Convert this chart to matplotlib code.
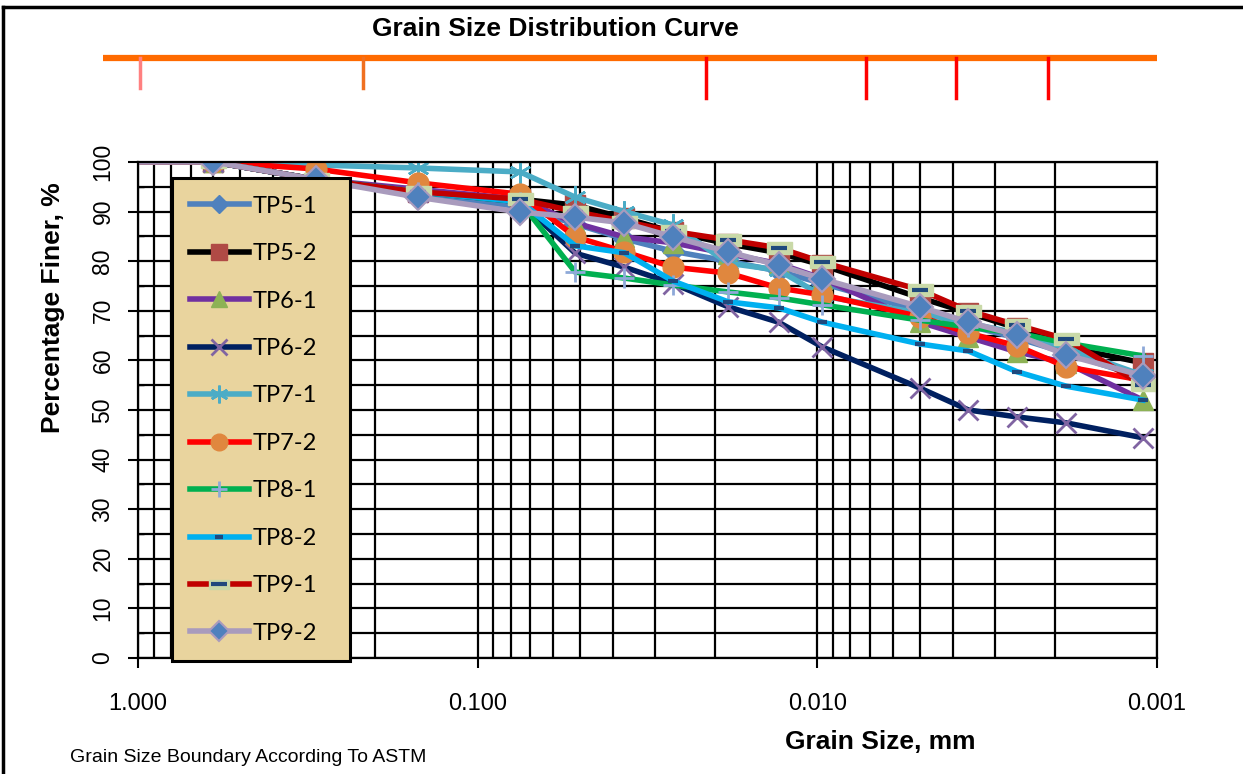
import matplotlib
matplotlib.use("Agg")
import matplotlib.pyplot as plt
from matplotlib.path import Path
from matplotlib.lines import Line2D
from matplotlib.legend_handler import HandlerTuple
from matplotlib.ticker import FixedLocator, MultipleLocator, NullFormatter

plt.rcParams['font.family'] = ['Liberation Sans', 'DejaVu Sans']

# grain sizes (mm) shared by all tests: sieves then hydrometer readings
grain_size = [1.0, 0.6, 0.3, 0.15, 0.075, 0.0516, 0.037, 0.0266,
              0.0183, 0.013, 0.00966, 0.00498, 0.00359, 0.00258, 0.00185, 0.0011]

tp5_1 = [100, 100, 96.5, 93.5, 91.0, 87.5, 84.5, 82.0, 80.0, 78.0, 75.5, 70.0, 67.0, 64.5, 61.5, 56.5]
tp5_2 = [100, 100, 96.5, 94.0, 92.5, 91.3, 88.7, 85.9, 83.5, 81.7, 79.2, 72.6, 69.6, 66.5, 62.7, 59.5]
tp6_1 = [100, 100, 96.5, 94.5, 92.5, 87.7, 84.9, 83.7, 81.5, 79.5, 76.5, 67.7, 64.7, 61.7, 59.5, 52.0]
tp6_2 = [100, 100, 96.5, 94.0, 92.0, 81.6, 78.8, 75.5, 70.8, 67.7, 62.7, 54.4, 50.0, 48.6, 47.4, 44.4]
tp7_1 = [100, 100, 99.4, 98.8, 98.0, 92.9, 90.0, 87.3, 79.6, 78.2, 73.0, 69.5, 67.5, 65.5, 62.5, 57.0]
tp7_2 = [100, 100, 98.6, 95.8, 93.5, 84.9, 81.9, 78.8, 77.6, 74.6, 73.2, 68.8, 65.5, 62.9, 58.7, 56.0]
tp8_1 = [100, 100, 96.5, 94.0, 92.0, 77.8, 76.6, 75.2, 73.8, 72.6, 71.2, 68.1, 66.7, 65.5, 63.5, 60.9]
tp8_2 = [100, 100, 96.5, 94.0, 92.0, 83.1, 81.7, 76.0, 71.8, 70.6, 67.7, 63.3, 61.9, 57.7, 54.8, 52.0]
tp9_1 = [100, 100, 96.5, 94.0, 92.5, 90.0, 88.0, 86.0, 84.3, 82.7, 79.8, 74.2, 70.0, 67.1, 64.3, 55.0]
tp9_2 = [100, 100, 96.5, 92.9, 89.9, 88.9, 87.7, 84.9, 81.9, 79.2, 76.4, 70.8, 67.7, 65.1, 61.1, 56.9]

labels = ["TP5-1", "TP5-2", "TP6-1", "TP6-2", "TP7-1",
          "TP7-2", "TP8-1", "TP8-2", "TP9-1", "TP9-2"]
series = [tp5_1, tp5_2, tp6_1, tp6_2, tp7_1, tp7_2, tp8_1, tp8_2, tp9_1, tp9_2]

# ASTM boundary marks on the scale bar above the chart
boundary_sizes = [0.985, 0.217, 0.0212, 0.0072, 0.0039, 0.0021]
boundary_colors = ['#FF8080', '#F07020', '#FF0000', '#FF0000', '#FF0000', '#FF0000']
boundary_long = [False, False, True, True, True, True]

x_ticks = [1.0, 0.1, 0.01, 0.001]
x_ticklabels = ["1.000", "0.100", "0.010", "0.001"]

# flat box marker for TP9-1
box = Path([(-1, -0.45), (1, -0.45), (1, 0.45), (-1, 0.45), (-1, -0.45)],
           [Path.MOVETO, Path.LINETO, Path.LINETO, Path.LINETO, Path.CLOSEPOLY])

styles = [
    dict(color='#4F81BD', marker='D', mfc='#4F81BD', mec='#4F81BD', ms=11),
    dict(color='#000000', marker='s', mfc='#B04A45', mec='#B04A45', ms=14),
    dict(color='#7030A0', marker='^', mfc='#8DB255', mec='#8DB255', ms=15),
    dict(color='#002060', marker='x', mfc='#8064A2', mec='#8064A2', ms=15, mew=2),
    dict(color='#4BACC6', marker=(6, 2, 0), mfc='#4BACC6', mec='#4BACC6', ms=16, mew=1.8),
    dict(color='#FF0000', marker='o', mfc='#E0873E', mec='#E0873E', ms=15),
    dict(color='#00B050', marker='+', mfc='#8EA9D8', mec='#8EA9D8', ms=15, mew=2),
    dict(color='#00B0F0', marker='_', mfc='#1F497D', mec='#1F497D', ms=7, mew=3),
    dict(color='#C00000', marker=box, mfc='#C9D9A8', mec='#C9D9A8', ms=18),
    dict(color='#A99BBD', marker='D', mfc='#4F81BD', mec='#A99BBD', ms=13, mew=1.5),
]

fig = plt.figure(figsize=(12.43, 7.74), dpi=100)
W, H = 1243, 774
ax = fig.add_axes([138 / W, 1 - 658 / H, (1157 - 138) / W, (658 - 162) / H])

# no marker at the first point (start of the curve at 1 mm)
marks = list(range(1, len(grain_size)))

handles = []
for vals, lab, st in zip(series, labels, styles):
    ln, = ax.plot(grain_size, vals, lw=4, label=lab, solid_joinstyle='round',
                  markevery=marks, **st)
    if lab == "TP9-1":
        dash, = ax.plot(grain_size, vals, ls='none', marker='_', ms=12, mew=3,
                        mec='#1F497D', markevery=marks)
        handles.append((ln, dash))
    else:
        handles.append(ln)

ax.set_xscale('log')
ax.set_xlim(1.0, 0.001)
ax.set_ylim(0, 100)
ax.xaxis.set_major_locator(FixedLocator(x_ticks))
ax.set_xticklabels(x_ticklabels)
ax.xaxis.set_minor_formatter(NullFormatter())
ax.yaxis.set_major_locator(MultipleLocator(10))
ax.yaxis.set_minor_locator(MultipleLocator(5))
ax.grid(True, which='both', axis='both', color='black', lw=1.6)
ax.set_axisbelow(True)
for sp in ax.spines.values():
    sp.set_linewidth(1.6)
ax.tick_params(axis='x', which='major', direction='out', length=7, width=1.5,
               labelsize=17, pad=18)
ax.tick_params(axis='x', which='minor', length=0)
ax.tick_params(axis='y', which='major', direction='out', length=7, width=1.5,
               labelsize=16.5, labelrotation=90, pad=10)
ax.tick_params(axis='y', which='minor', direction='in', length=4, width=1)
for t in ax.get_yticklabels():
    t.set_va('center')

leg = ax.legend(handles, labels, loc='upper left',
                bbox_to_anchor=(34 / 1019, 0, 178 / 1019, 480 / 496),
                mode='expand', borderaxespad=0, fancybox=False, framealpha=1,
                handlelength=2.5, handletextpad=0.15, labelspacing=1.12,
                borderpad=0.75, prop={'family': 'Lato', 'size': 17},
                handler_map={tuple: HandlerTuple(ndivide=1)})
for h in leg.legend_handles:
    if hasattr(h, 'set_markersize'):
        h.set_markersize(h.get_markersize() * 0.8)
fr = leg.get_frame()
fr.set_facecolor('#E9D49E')
fr.set_edgecolor('black')
fr.set_linewidth(2.2)

# scale bar with ASTM boundaries
top = fig.add_axes([138 / W, 1 - 110 / H, (1157 - 138) / W, 70 / H])
top.set_xscale('log')
top.set_xlim(1.0, 0.001)
top.set_ylim(110, 40)
top.axis('off')
top.plot([1.27, 0.001], [58, 58], color='#FF6A00', lw=4.5, clip_on=False,
         solid_capstyle='butt')
for b, c, lng in zip(boundary_sizes, boundary_colors, boundary_long):
    top.plot([b, b], [58, 98 if lng else 88], color=c, lw=2.5, clip_on=False)

fig.text(555 / W, 1 - 29 / H, "Grain Size Distribution Curve", ha='center',
         va='center', fontsize=19, fontweight='bold')
fig.text(880 / W, 1 - 742 / H, "Grain Size, mm", ha='center', va='center',
         fontsize=19, fontweight='bold')
fig.text(53 / W, 1 - 308 / H, "Percentage Finer, %", ha='center', va='center',
         rotation=90, fontsize=19, fontweight='bold')
fig.text(70 / W, 1 - 757 / H, "Grain Size Boundary According To ASTM",
         ha='left', va='center', fontsize=14)

# outer frame lines (top and left)
fig.add_artist(Line2D([3 / W, 1.0], [1 - 7 / H, 1 - 7 / H], color='black', lw=2.5))
fig.add_artist(Line2D([3 / W, 3 / W], [0, 1 - 7 / H], color='black', lw=2.5))

fig.savefig("out.png", dpi=100)
